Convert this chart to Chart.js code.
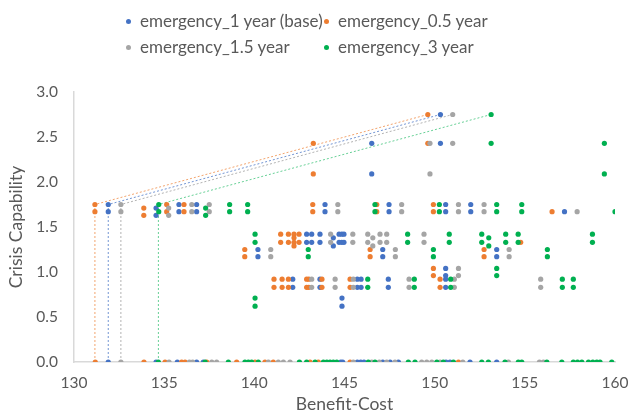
<!DOCTYPE html>
<html>
<head>
<meta charset="utf-8">
<script src="https://cdn.jsdelivr.net/npm/chart.js@4.4.1/dist/chart.umd.min.js"></script>
<style>
  body { margin: 0; background: #fff; }
  #wrap { position: relative; width: 628px; height: 414px; }
  #legend {
    position: absolute; left: 0; top: 0; width: 628px;
    font-family: Lato, sans-serif; font-size: 17px; color: #595959;
  }
  .item { position: absolute; white-space: nowrap; line-height: 20px; }
  .item span.dot {
    position: absolute; left: -14px; top: 8px;
    width: 5px; height: 5px; border-radius: 50%;
  }
</style>
</head>
<body>
<div id="wrap">
  <canvas id="chart" width="628" height="414"></canvas>
  <div id="legend"></div>
</div>
<script>
// Series names and colours
var seriesNames = ['emergency_1 year (base)', 'emergency_0.5 year', 'emergency_1.5 year', 'emergency_3 year'];
var seriesColors = ['#4472C4', '#ED7D31', '#A5A5A5', '#00B050'];
var lineColors = ['rgba(68,114,196,0.75)', 'rgba(237,125,49,0.7)', 'rgba(165,165,165,0.85)', 'rgba(0,176,80,0.6)'];

// Points per series, grouped by Crisis Capability level: [y, [benefit-cost values]]
var base1Year = [
  [0, [131.9, 134.55, 135.73, 136.8, 137.17, 144.79, 144.9, 145.71, 145.9, 146.08, 147.12, 147.53, 147.99, 150.63, 150.85, 151.96, 153.44]],
  [2.75, [150.32]],
  [2.43, [150.32, 146.51]],
  [2.09, [146.51]],
  [1.75, [131.9, 135.82, 136.8, 143.92, 147.47, 150.61, 152.0]],
  [1.67, [131.9, 135.82, 136.8, 143.92, 147.47, 150.61, 152.0, 157.2]],
  [1.71, [134.55]],
  [1.63, [134.55]],
  [1.42, [142.9, 143.18, 143.64, 144.7, 144.85, 144.97]],
  [1.33, [142.9, 143.18, 143.64, 144.7, 144.85, 144.97]],
  [1.38, [144.38]],
  [1.29, [144.38]],
  [1.25, [140.2, 147.12, 153.44]],
  [1.17, [140.2, 147.12, 153.44]],
  [1.04, [150.61]],
  [0.96, [150.61]],
  [0.92, [142.13, 143.64, 145.71, 145.92, 147.43, 150.61]],
  [0.83, [142.13, 143.64, 145.71, 145.92, 147.43, 150.61]],
  [0.71, [144.86]],
  [0.62, [144.86]]
];
var half1Year = [
  [0, [131.18, 133.88, 135.05, 135.97, 136.16, 137.36, 139.02, 140.04, 140.59, 141.05, 143.09, 143.55, 145.31, 151.32]],
  [2.75, [149.62]],
  [2.43, [149.62, 143.27]],
  [2.09, [143.27]],
  [1.75, [131.16, 135.14, 136.1, 143.24, 146.79, 149.93]],
  [1.67, [131.16, 135.14, 136.1, 143.24, 146.79, 149.93, 156.51]],
  [1.71, [133.87]],
  [1.63, [133.87]],
  [1.42, [141.46, 141.89, 142.2, 142.48]],
  [1.33, [141.46, 141.89, 142.2, 142.48, 154.77]],
  [1.38, [142.2]],
  [1.29, [142.2]],
  [1.25, [139.47, 146.42, 152.74]],
  [1.17, [139.47, 146.42, 152.74]],
  [1.04, [149.93]],
  [0.96, [149.93]],
  [0.92, [141.09, 141.54, 141.89, 142.9, 143.02, 143.75, 145.31, 150.3]],
  [0.83, [141.09, 141.54, 141.89, 142.9, 143.02, 143.75, 145.31, 150.3]]
];
var oneHalfYear = [
  [0, [132.6, 135.27, 136.4, 136.58, 137.64, 137.91, 140.78, 141.33, 141.61, 141.98, 145.49, 146.51, 146.93, 147.34, 147.8, 149.28, 149.56, 149.84, 150.3, 151.56, 154.09, 155.81, 156.03]],
  [2.75, [151.0]],
  [2.43, [151.0, 149.74]],
  [2.09, [149.74]],
  [1.75, [132.6, 136.53, 137.5, 144.63, 148.17, 151.32, 152.74]],
  [1.67, [132.6, 136.53, 137.5, 144.63, 148.17, 151.32, 152.74, 157.9]],
  [1.71, [135.25]],
  [1.63, [135.25]],
  [1.42, [144.23, 145.46, 146.29, 146.97, 147.34, 149.41]],
  [1.33, [144.23, 145.46, 146.29, 146.97, 147.34, 149.41]],
  [1.38, [146.57]],
  [1.29, [146.57]],
  [1.25, [140.91, 147.82, 154.13]],
  [1.17, [140.91, 147.82, 154.13]],
  [1.04, [151.32]],
  [0.96, [151.32]],
  [0.92, [143.18, 144.48, 145.49, 148.58, 151.09, 155.88]],
  [0.83, [143.18, 144.48, 145.49, 148.58, 151.09, 155.88]]
];
var three1Year = [
  [0, [134.68, 137.27, 138.56, 139.48, 139.67, 139.85, 140.22, 142.5, 142.9, 143.37, 143.83, 144.02, 144.2, 144.38, 144.57, 146.32, 146.69, 148.54, 148.91, 150.12, 150.48, 151.04, 152.61, 152.98, 153.9, 154.64, 154.83, 156.22, 157.05, 157.69, 157.92, 158.16, 158.53, 158.77, 158.99, 159.17, 159.82]],
  [2.75, [153.13]],
  [2.43, [153.13, 159.41]],
  [2.09, [159.41]],
  [1.75, [134.7, 138.63, 139.63, 146.69, 150.26, 153.44, 154.83]],
  [1.67, [134.7, 138.63, 139.63, 146.69, 150.26, 153.44, 154.83, 160.0]],
  [1.71, [137.3]],
  [1.63, [137.3]],
  [1.42, [140.04, 148.5, 150.81, 152.61, 153.94, 154.63, 158.75]],
  [1.33, [140.04, 148.5, 150.81, 152.61, 153.94, 154.63, 158.75]],
  [1.38, [153.0]],
  [1.29, [153.0]],
  [1.25, [142.99, 149.93, 156.25]],
  [1.17, [142.99, 149.93, 156.25]],
  [1.04, [153.44]],
  [0.96, [153.44]],
  [0.92, [146.29, 148.87, 150.89, 157.08, 157.69]],
  [0.83, [146.29, 148.87, 150.89, 157.08, 157.69]],
  [0.71, [140.04]],
  [0.62, [140.04]]
];

// Dotted frontier lines: [x, y]
var frontBase = [[131.9, 0], [131.9, 1.75], [150.32, 2.75]];
var frontHalf = [[131.16, 0], [131.16, 1.75], [149.62, 2.75]];
var frontOneHalf = [[132.6, 0], [132.6, 1.75], [151.0, 2.75]];
var frontThree = [[134.68, 0], [134.68, 1.75], [153.13, 2.75]];

var xTicks = [130, 135, 140, 145, 150, 155, 160];
var yTicks = [0, 0.5, 1.0, 1.5, 2.0, 2.5, 3.0];

function flatten(groups) {
    var out = [];
    groups.forEach(function(g) {
        g[1].forEach(function(x) { out.push({x: x, y: g[0]}); });
    });
    return out;
}
function toPts(arr) { return arr.map(function(p) { return {x: p[0], y: p[1]}; }); }

var allSeries = [base1Year, half1Year, oneHalfYear, three1Year];
var fronts = [frontBase, frontHalf, frontOneHalf, frontThree];

var datasets = [];
allSeries.forEach(function(s, i) {
    datasets.push({
        label: seriesNames[i],
        data: flatten(s),
        backgroundColor: seriesColors[i],
        borderWidth: 0,
        pointRadius: 2.6,
        order: 4 - i
    });
});
fronts.forEach(function(f, i) {
    datasets.push({
        type: 'line',
        label: seriesNames[i] + ' frontier',
        data: toPts(f),
        borderColor: lineColors[i],
        borderWidth: 1,
        borderDash: [2, 2],
        pointRadius: 0,
        fill: false,
        order: 10
    });
});

// HTML legend laid out in 2 columns
var legend = document.getElementById('legend');
var legendPos = [[140, 11], [338, 11], [140, 37], [338, 37]];
seriesNames.forEach(function(name, i) {
    var d = document.createElement('div');
    d.className = 'item';
    d.style.left = legendPos[i][0] + 'px';
    d.style.top = legendPos[i][1] + 'px';
    d.innerHTML = '<span class="dot" style="background:' + seriesColors[i] + '"></span>' + name;
    legend.appendChild(d);
});

var tickFont = { family: 'Lato, sans-serif', size: 15.5 };
var titleFont = { family: 'Lato, sans-serif', size: 17.5 };

new Chart(document.getElementById('chart'), {
    type: 'scatter',
    data: { datasets: datasets },
    options: {
        responsive: false,
        animation: false,
        layout: { padding: { top: 92, right: 0, left: 0, bottom: 0 } },
        plugins: { legend: { display: false }, tooltip: { enabled: false } },
        scales: {
            x: {
                type: 'linear', min: 130, max: 160,
                afterBuildTicks: function(s) { s.ticks = xTicks.map(function(v) { return {value: v}; }); },
                afterFit: function(s) { s.height = 52; s.paddingLeft = 0; s.paddingRight = 13; },
                grid: { display: false, drawTicks: false },
                border: { display: true, color: '#D9D9D9', width: 1.5 },
                ticks: { font: tickFont, color: '#595959', padding: 12 },
                title: { display: true, text: 'Benefit-Cost', color: '#595959',
                         font: titleFont, padding: { top: 0, bottom: -1 } }
            },
            y: {
                type: 'linear', min: 0, max: 3,
                afterBuildTicks: function(s) { s.ticks = yTicks.map(function(v) { return {value: v}; }); },
                afterFit: function(s) { s.width = 74; },
                grid: { display: false, drawTicks: false },
                border: { display: true, color: '#D9D9D9', width: 1.5 },
                ticks: { font: tickFont, color: '#595959', padding: 16,
                         callback: function(v) { return Number(v).toFixed(1); } },
                title: { display: true, text: 'Crisis Capability', color: '#595959',
                         font: titleFont, padding: { top: 6, bottom: 0 } }
            }
        }
    }
});
</script>
</body>
</html>
